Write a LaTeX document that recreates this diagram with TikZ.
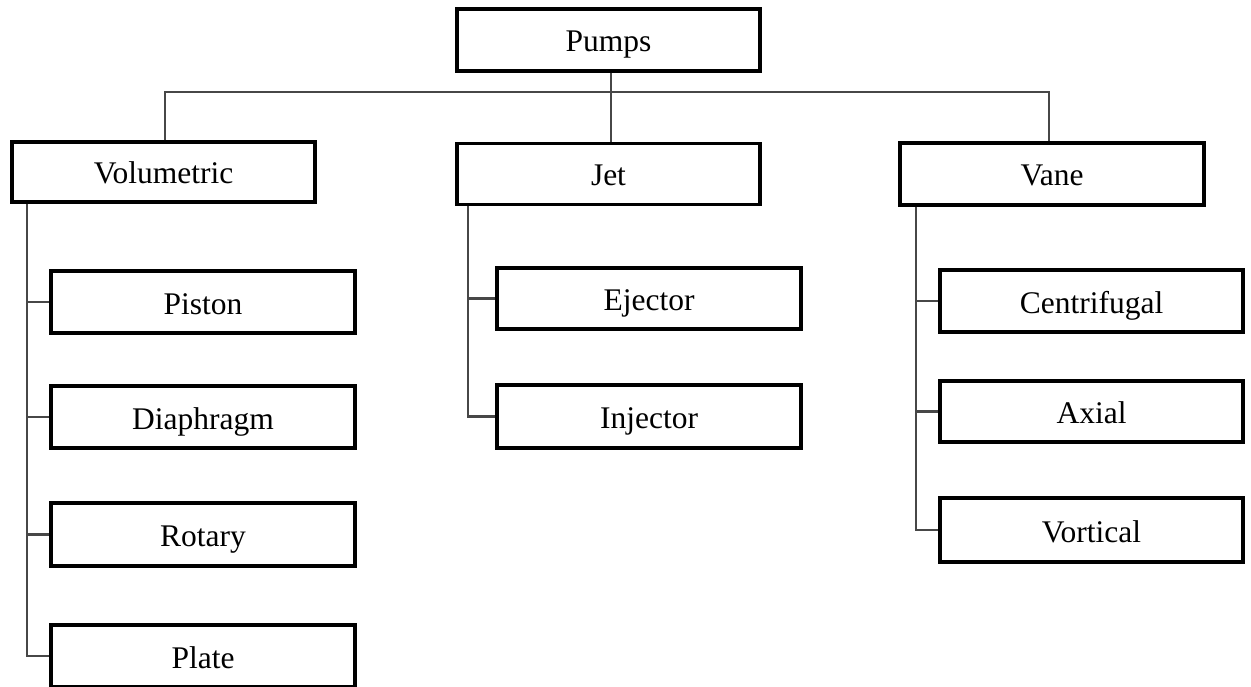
\documentclass[tikz,border=0pt]{standalone}
\usepackage{fontspec}
\setmainfont{Liberation Serif}
\begin{document}
\begin{tikzpicture}[x=1bp,y=-1bp,
  box/.style={draw=black, line width=3.3bp, fill=white, inner sep=0pt,
    minimum width=303bp, minimum height=62bp,
    font=\fontsize{31.5bp}{34bp}\selectfont, text height=24bp, text depth=0pt},
  conn/.style={draw=black!72, line width=2.2bp}]
\useasboundingbox (0,0) rectangle (1251,687);
\coordinate (bus) at (0,92);
\coordinate (vsp) at (27,0);
\coordinate (jsp) at (468,0);
\coordinate (wsp) at (916,0);
% nodes
\node[box] (pumps) at (608.5,40) {Pumps};
\node[box, minimum height=60bp] (vol) at (163.5,172) {Volumetric};
\node[box, minimum height=61bp] (jet) at (608.5,174) {Jet};
\node[box, minimum width=304bp] (vane) at (1052,174) {Vane};
\node[box, minimum width=304bp] (piston) at (203,302) {Piston};
\node[box, minimum width=304bp] (diaph) at (203,417) {Diaphragm};
\node[box, minimum width=304bp, minimum height=63bp] (rotary) at (203,534.5) {Rotary};
\node[box, minimum width=304bp] (plate) at (203,656) {Plate};
\node[box, minimum width=304bp, minimum height=61bp] (ejector) at (649,298.5) {Ejector};
\node[box, minimum width=304bp, minimum height=63bp] (injector) at (649,416.5) {Injector};
\node[box] (centr) at (1091.5,301) {Centrifugal};
\node[box, minimum height=61bp] (axial) at (1091.5,411.5) {Axial};
\node[box, minimum height=64bp] (vort) at (1091.5,530) {Vortical};
% top connectors
\draw[conn] ([xshift=2.5bp]pumps.south) -- ([xshift=2.5bp]jet.north);
\draw[conn] ([xshift=1.5bp]vol.north) -- ([xshift=1.5bp]vol.north |- bus)
  -- ([xshift=-3bp]vane.north |- bus) -- ([xshift=-3bp]vane.north);
% spines
\draw[conn] (vsp |- vol.south) |- (plate.west);
\draw[conn] (vsp |- piston.west) -- (piston.west);
\draw[conn] (vsp |- diaph.west) -- (diaph.west);
\draw[conn] (vsp |- rotary.west) -- (rotary.west);
\draw[conn] (jsp |- jet.south) |- (injector.west);
\draw[conn] (jsp |- ejector.west) -- (ejector.west);
\draw[conn] (wsp |- vane.south) |- (vort.west);
\draw[conn] (wsp |- centr.west) -- (centr.west);
\draw[conn] (wsp |- axial.west) -- (axial.west);
\end{tikzpicture}
\end{document}
